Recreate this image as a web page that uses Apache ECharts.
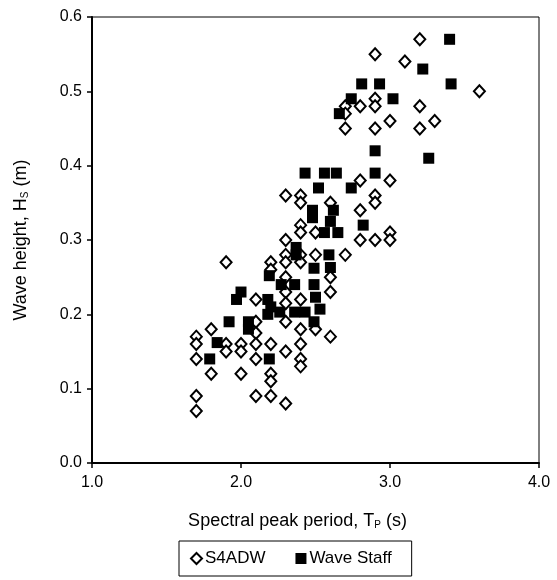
<!DOCTYPE html>
<html>
<head>
<meta charset="utf-8">
<script src="https://cdn.jsdelivr.net/npm/echarts@6/dist/echarts.min.js"></script>
<style>html,body{margin:0;padding:0;background:#fff;}#c{width:557px;height:580px;}</style>
</head>
<body>
<div id="c"></div>
<script>
// S4ADW: [Tp (s), Hs (m)]
var s4adw = [
  [3.2,0.57],[2.9,0.55],[3.1,0.54],[3.6,0.50],[2.9,0.49],[2.7,0.48],[2.7,0.47],[2.8,0.48],[2.9,0.48],[3.2,0.48],
  [2.7,0.45],[2.9,0.45],[3.0,0.46],[3.2,0.45],[3.3,0.46],
  [2.8,0.38],[3.0,0.38],[2.3,0.36],[2.4,0.36],[2.4,0.35],[2.9,0.36],[2.9,0.35],[2.6,0.35],[2.8,0.34],
  [2.4,0.32],[2.4,0.31],[2.5,0.31],[3.0,0.31],[2.3,0.30],[2.8,0.30],[2.9,0.30],[3.0,0.30],
  [2.3,0.28],[2.4,0.28],[2.5,0.28],[2.7,0.28],[2.4,0.27],[2.3,0.27],[1.9,0.27],[2.2,0.27],[2.2,0.26],
  [2.6,0.25],[2.3,0.25],[2.6,0.23],[2.3,0.23],[2.4,0.22],[2.1,0.22],[2.3,0.215],
  [2.3,0.19],[2.4,0.18],[2.5,0.18],[2.6,0.17],[2.4,0.16],[2.3,0.15],[2.4,0.14],[2.4,0.13],[2.3,0.08],
  [1.7,0.17],[1.7,0.16],[1.7,0.14],[1.7,0.09],[1.7,0.07],[1.8,0.18],[1.8,0.12],[1.9,0.16],[1.9,0.15],
  [2.0,0.16],[2.0,0.15],[2.0,0.12],[2.1,0.19],[2.1,0.175],[2.1,0.16],[2.1,0.14],[2.1,0.09],
  [2.2,0.16],[2.2,0.12],[2.2,0.11],[2.2,0.09]
];
// Wave Staff: [Tp (s), Hs (m)]
var waveStaff = [
  [3.40,0.57],[3.22,0.53],[2.81,0.51],[2.93,0.51],[3.41,0.51],[2.74,0.49],[3.02,0.49],[2.66,0.47],
  [2.90,0.42],[3.26,0.41],[2.43,0.39],[2.56,0.39],[2.64,0.39],[2.90,0.39],[2.52,0.37],[2.74,0.37],
  [2.48,0.34],[2.62,0.34],[2.48,0.33],[2.60,0.325],[2.82,0.32],[2.56,0.31],[2.65,0.31],
  [2.37,0.29],[2.37,0.28],[2.59,0.28],[2.60,0.263],[2.49,0.262],[2.19,0.252],[2.49,0.24],
  [2.27,0.24],[2.36,0.24],[2.00,0.23],[1.97,0.22],[2.18,0.22],[2.50,0.223],[2.53,0.207],
  [2.20,0.21],[2.18,0.20],[2.26,0.203],[2.36,0.203],[2.43,0.203],[2.49,0.19],[1.92,0.19],
  [2.05,0.19],[2.05,0.18],[1.84,0.162],[1.79,0.14],[2.19,0.14]
];
var xTicks = [1.0, 2.0, 3.0, 4.0];
var yTicks = [0.0, 0.1, 0.2, 0.3, 0.4, 0.5, 0.6];

var font = 'Liberation Sans, Arial, sans-serif';
var chart = echarts.init(document.getElementById('c'), null, {renderer: 'canvas'});
chart.setOption({
  animation: false,
  backgroundColor: '#fff',
  grid: {left: 92, right: 18, top: 17, bottom: 117, show: true, borderColor: '#000', borderWidth: 1, backgroundColor: 'transparent'},
  xAxis: {
    type: 'value', min: xTicks[0], max: xTicks[xTicks.length-1], interval: 1,
    axisLine: {show: true, onZero: false, lineStyle: {color: '#000', width: 2}},
    axisTick: {show: true, inside: false, length: 5, lineStyle: {color: '#000', width: 1.5}},
    splitLine: {show: false},
    axisLabel: {color: '#000', fontSize: 16, fontFamily: font, margin: 12, formatter: function(v){return v.toFixed(1);}},
    name: '{a|Spectral peak period, T}{s|P}{a| (s)}',
    nameLocation: 'middle', nameGap: 49,
    nameTextStyle: {padding: [0, 36, 0, 0], rich: {a: {fontSize: 18, fontFamily: font, color: '#000'}, s: {fontSize: 10, fontFamily: font, color: '#000', padding: [8,0,0,0]}}}
  },
  yAxis: {
    type: 'value', min: yTicks[0], max: yTicks[yTicks.length-1], interval: 0.1,
    axisLine: {show: true, onZero: false, lineStyle: {color: '#000', width: 2}},
    axisTick: {show: true, inside: false, length: 5, lineStyle: {color: '#000', width: 1.5}},
    splitLine: {show: false},
    axisLabel: {color: '#000', fontSize: 16, fontFamily: font, margin: 10, formatter: function(v){return v.toFixed(1);}},
    name: '{a|Wave height, H}{s|S}{a| (m)}',
    nameLocation: 'middle', nameGap: 62, nameRotate: 90,
    nameTextStyle: {rich: {a: {fontSize: 18, fontFamily: font, color: '#000'}, s: {fontSize: 10, fontFamily: font, color: '#000', padding: [8,0,0,0]}}}
  },
  legend: {
    left: 179, top: 541, orient: 'horizontal',
    padding: [9, 20, 9, 11], itemGap: 30, itemWidth: 11, itemHeight: 11,
    borderColor: '#000', borderWidth: 1, backgroundColor: '#fff',
    textStyle: {color: '#000', fontSize: 17, fontFamily: font, padding: [0,0,0,-2]},
    data: [
      {name: 'S4ADW', icon: 'diamond', itemStyle: {color: '#fff', borderColor: '#000', borderWidth: 2}},
      {name: 'Wave Staff', icon: 'rect', itemStyle: {color: '#000'}}
    ]
  },
  series: [
    {name: 'S4ADW', type: 'scatter', data: s4adw, symbol: 'diamond', symbolSize: [11, 12],
     itemStyle: {color: '#fff', borderColor: '#000', borderWidth: 2, opacity: 1}, z: 2},
    {name: 'Wave Staff', type: 'scatter', data: waveStaff, symbol: 'rect', symbolSize: 11,
     itemStyle: {color: '#000', opacity: 1}, z: 3}
  ]
});
</script>
</body>
</html>
